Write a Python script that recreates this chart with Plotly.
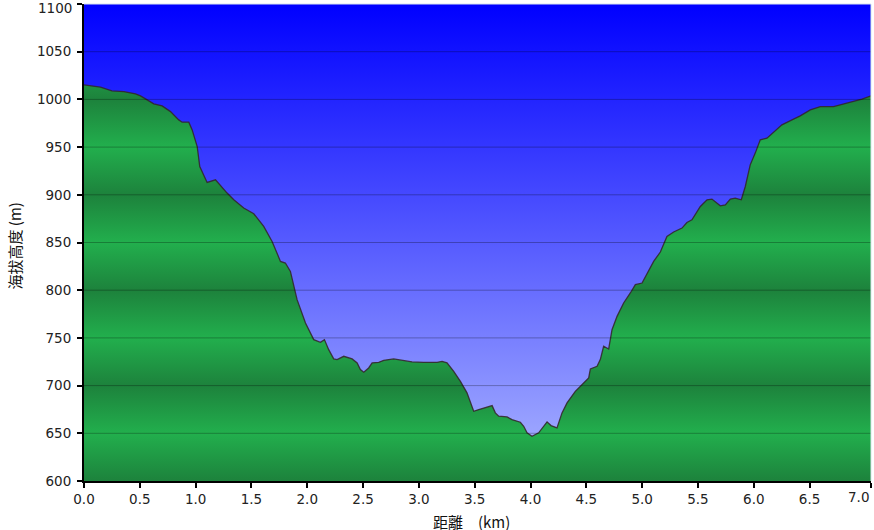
import plotly.graph_objects as go

# ---- data ----
distance_km = [0.000, 0.088, 0.148, 0.250, 0.357, 0.461, 0.506, 0.566, 0.625, 0.700,
               0.775, 0.849, 0.879, 0.939, 0.969, 1.014, 1.037, 1.103, 1.178, 1.282,
               1.342, 1.431, 1.521, 1.610, 1.685, 1.760, 1.804, 1.849, 1.909, 1.984,
               2.058, 2.118, 2.154, 2.192, 2.237, 2.267, 2.327, 2.402, 2.447, 2.476,
               2.506, 2.550, 2.581, 2.640, 2.685, 2.774, 2.864, 2.939, 3.043, 3.163,
               3.208, 3.252, 3.312, 3.372, 3.431, 3.491, 3.536, 3.611, 3.656, 3.685,
               3.715, 3.790, 3.834, 3.909, 3.939, 3.969, 4.013, 4.073, 4.148, 4.184,
               4.237, 4.282, 4.327, 4.401, 4.476, 4.521, 4.536, 4.596, 4.625, 4.655,
               4.700, 4.730, 4.775, 4.834, 4.894, 4.939, 4.999, 5.044, 5.103, 5.163,
               5.222, 5.282, 5.357, 5.401, 5.446, 5.521, 5.581, 5.625, 5.700, 5.745,
               5.790, 5.834, 5.888, 5.924, 5.968, 6.013, 6.058, 6.118, 6.177, 6.252,
               6.342, 6.416, 6.506, 6.596, 6.715, 6.804, 6.894, 6.969, 7.050]
elevation_m = [1015.2, 1013.4, 1012.8, 1008.9, 1008.2, 1005.8, 1003.7, 999.5, 995.3, 993.2,
               987.2, 978.5, 976.1, 976.1, 968.0, 950.6, 929.6, 912.9, 915.7, 901.8,
               894.8, 886.1, 880.1, 866.8, 851.1, 830.2, 828.5, 819.7, 790.1, 765.7,
               748.2, 745.3, 748.2, 737.7, 728.0, 727.2, 730.7, 728.0, 723.8, 716.8,
               714.0, 718.5, 723.8, 724.4, 726.5, 728.0, 726.5, 724.8, 724.4, 724.4,
               725.4, 723.8, 715.0, 704.5, 692.4, 673.1, 674.9, 677.7, 679.0, 671.4,
               667.9, 667.2, 664.4, 661.6, 657.4, 650.5, 646.9, 650.5, 662.0, 658.1,
               655.7, 671.4, 681.9, 694.0, 702.8, 708.1, 717.5, 720.2, 727.2, 741.2,
               738.4, 758.6, 772.6, 786.6, 797.1, 805.8, 807.5, 818.0, 830.2, 840.0,
               856.3, 861.0, 865.1, 871.0, 873.8, 887.8, 894.8, 895.5, 888.5, 889.5,
               895.5, 896.5, 894.8, 908.7, 931.4, 943.7, 957.6, 959.4, 965.2, 973.3,
               978.5, 982.7, 989.0, 992.5, 992.5, 995.3, 997.7, 1000.2, 1003.7]

x_ticks = [0.0, 0.5, 1.0, 1.5, 2.0, 2.5, 3.0, 3.5, 4.0, 4.5, 5.0, 5.5, 6.0, 6.5]
x_tick_labels = ["0.0", "0.5", "1.0", "1.5", "2.0", "2.5", "3.0", "3.5", "4.0",
                 "4.5", "5.0", "5.5", "6.0", "6.5"]
x_end_label = "7.0"   # label of the tick drawn at the end of the route
y_ticks = [600, 650, 700, 750, 800, 850, 900, 950, 1000, 1050, 1100]
y_tick_labels = ["600", "650", "700", "750", "800", "850", "900", "950", "1000", "1050", "1100"]

x_title = "距離　(km)"
y_title = "海拔高度 (m)"

X_MIN, X_MAX = 0.0, max(distance_km)
Y_MIN, Y_MAX = 600, 1100

# ---- colours ----
sky_bottom = "rgb(172,182,255)"
sky_top = "rgb(0,0,255)"
green_dark = "rgb(29,130,60)"
green_bright = "rgb(34,175,77)"

# periodic banding of the ground fill: dark at each hundred, bright at each fifty
n_bands = int((Y_MAX - Y_MIN) / 50)
green_scale = []
for i in range(n_bands + 1):
    level = Y_MIN + 50 * i
    col = green_dark if level % 100 == 0 else green_bright
    green_scale.append([i / n_bands, col])

fig = go.Figure()

# sky background
fig.add_trace(go.Scatter(
    x=[X_MIN, X_MAX, X_MAX, X_MIN, X_MIN],
    y=[Y_MIN, Y_MIN, Y_MAX, Y_MAX, Y_MIN],
    mode="none", fill="toself",
    fillgradient=dict(type="vertical", start=Y_MIN, stop=Y_MAX,
                      colorscale=[[0, sky_bottom], [1, sky_top]]),
    hoverinfo="skip", showlegend=False,
))

# elevation profile
fig.add_trace(go.Scatter(
    x=distance_km, y=elevation_m,
    mode="lines", line=dict(color="rgba(50,35,40,0.85)", width=1.3),
    fill="tozeroy",
    fillgradient=dict(type="vertical", start=Y_MIN, stop=Y_MAX, colorscale=green_scale),
    showlegend=False,
))

# horizontal grid lines above the fills
shapes = []
for t in y_ticks[1:-1]:
    shapes.append(dict(type="line", xref="paper", x0=0, x1=1, yref="y", y0=t, y1=t,
                       line=dict(color="rgba(0,0,0,0.28)", width=1), layer="above"))
# light border at top and right
shapes.append(dict(type="line", xref="paper", x0=0, x1=1, yref="paper", y0=1, y1=1,
                   line=dict(color="rgb(215,225,240)", width=1), layer="above"))
shapes.append(dict(type="line", xref="paper", x0=1, x1=1, yref="paper", y0=0, y1=1,
                   line=dict(color="rgb(215,230,235)", width=1), layer="above"))

tick_font = dict(family="DejaVu Sans", size=13.5, color="#222")
title_font = dict(family="Noto Sans CJK JP", size=15, color="#111")

# edge tick labels are nudged inward so they stay inside the page
y_axis_text = y_tick_labels[:-1] + [""]
x_axis_vals = x_ticks + [X_MAX]
x_axis_text = x_tick_labels + [""]
annotations = [dict(x=0, xref="paper", xanchor="right", xshift=-10,
                    y=y_ticks[-1], yref="y", yanchor="middle", yshift=-4,
                    text=y_tick_labels[-1], showarrow=False, font=tick_font),
               dict(x=X_MAX, xref="x", xanchor="right", xshift=0,
                    y=0, yref="paper", yanchor="top", yshift=-6,
                    text=x_end_label, showarrow=False, font=tick_font),
               dict(x=0.5, xref="paper", xanchor="center", xshift=-6, y=0, yref="paper",
                    yanchor="middle", yshift=-40, height=18, text=x_title, showarrow=False,
                    font=title_font),
               dict(x=0, xref="paper", xanchor="center", xshift=-70, y=0.5, yref="paper",
                    yanchor="middle", yshift=-4, textangle=-90, text=y_title, showarrow=False,
                    font=title_font)]

fig.update_layout(
    width=874, height=530,
    margin=dict(l=84, r=3, t=4, b=49),
    paper_bgcolor="white",
    plot_bgcolor="white",
    shapes=shapes,
    annotations=annotations,
    xaxis=dict(
        range=[X_MIN, X_MAX], tickmode="array", tickvals=x_axis_vals, ticktext=x_axis_text,
        showgrid=False, zeroline=False, showline=True, linecolor="black", linewidth=2,
        ticks="outside", ticklen=5, tickwidth=2, tickcolor="black",
        tickfont=tick_font, automargin=False,
    ),
    yaxis=dict(
        range=[Y_MIN, Y_MAX], tickmode="array", tickvals=y_ticks, ticktext=y_axis_text,
        showgrid=False, zeroline=False, showline=True, linecolor="black", linewidth=2,
        ticks="outside", ticklen=5, tickwidth=2, tickcolor="black",
        tickfont=tick_font, automargin=False, ticklabelstandoff=3,
    ),
)

fig.write_html("out.html",
               config={"displayModeBar": False},
               post_script="document.body.style.margin='0px';"
                           "document.body.style.overflow='hidden';")
